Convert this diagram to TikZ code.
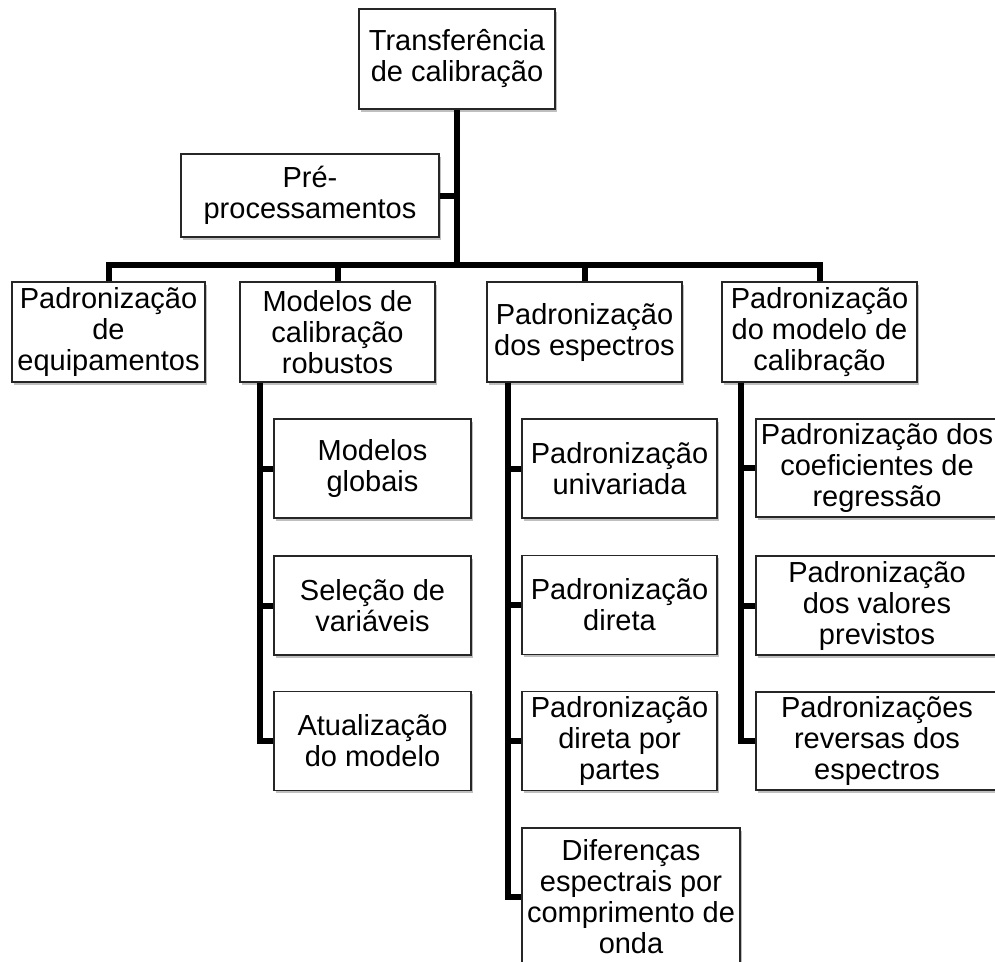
\documentclass[tikz,border=0pt]{standalone}
\usepackage{fontspec}
\setmainfont{Liberation Sans}
\usetikzlibrary{shadows}
\begin{document}
\begin{tikzpicture}[x=1pt,y=-1pt,
  box/.style={draw=black!85, line width=1.2pt, fill=white, align=center, inner sep=0pt,
    font=\fontsize{29}{31}\selectfont,
    drop shadow={shadow xshift=1.5pt, shadow yshift=-2.5pt, opacity=0.25, fill=black}},
  conn/.style={line width=6pt, black}]
\useasboundingbox (0,0) rectangle (995,961);

% top levels
\node[box, minimum width=196pt, minimum height=100pt] (T) at (457,59) {Transferência\\de calibração};
\node[box, minimum width=258pt, minimum height=83pt] (P) at (310,195.5) {Pré-\\processamentos};

\node[box, minimum width=193pt, minimum height=100pt] (E) at (108.5,332) {Padronização\\de\\equipamentos};
\node[box, minimum width=195pt, minimum height=100pt] (M) at (337.5,332) {Modelos de\\calibração\\robustos};
\node[box, minimum width=195pt, minimum height=100pt] (S) at (584.5,332) {Padronização\\dos espectros};
\node[box, minimum width=195pt, minimum height=100pt] (C) at (819.5,332) {Padronização\\do modelo de\\calibração};

% Modelos children
\node[box, minimum width=197pt, minimum height=99pt] (m1) at (372.5,468.5) {Modelos\\globais};
\node[box, minimum width=197pt, minimum height=99pt] (m2) at (372.5,605.5) {Seleção de\\variáveis};
\node[box, minimum width=197pt, minimum height=99pt] (m3) at (372.5,741) {Atualização\\do modelo};

% Espectros children
\node[box, minimum width=195pt, minimum height=99pt] (s1) at (619.5,468.5) {Padronização\\univariada};
\node[box, minimum width=195pt, minimum height=99pt] (s2) at (619.5,605) {Padronização\\direta};
\node[box, minimum width=195pt, minimum height=99pt] (s3) at (619.5,741) {Padronização\\direta por\\partes};
\node[box, minimum width=218pt, minimum height=138pt] (s4) at (631,897) {Diferenças\\espectrais por\\comprimento de\\onda};

% Modelo de calibracao children
\node[box, minimum width=242pt, minimum height=98pt] (c1) at (877,468) {Padronização dos\\coeficientes de\\regressão};
\node[box, minimum width=242pt, minimum height=99pt] (c2) at (877,605.5) {Padronização\\dos valores\\previstos};
\node[box, minimum width=242pt, minimum height=98pt] (c3) at (877,741) {Padronizações\\reversas dos\\espectros};

% main connectors
\coordinate (bus) at (457,265);
\draw[conn] (T.south) -- (bus);
\draw[conn] (P.east) -- (P.east -| bus);
\draw[conn] (E.north) |- (bus) -| (C.north);
\draw[conn] (M.north) -- (M.north |- bus);
\draw[conn] (S.north) -- (S.north |- bus);

% branch connectors
\coordinate (ma) at ([xshift=21pt]M.south west);
\draw[conn] (ma) |- (m1.west);
\draw[conn] (ma) |- (m2.west);
\draw[conn] (ma) |- (m3.west);

\coordinate (sa) at ([xshift=22pt]S.south west);
\draw[conn] (sa) |- (s1.west);
\draw[conn] (sa) |- (s2.west);
\draw[conn] (sa) |- (s3.west);
\draw[conn] (sa) |- (s4.west);

\coordinate (ca) at ([xshift=20pt]C.south west);
\draw[conn] (ca) |- (c1.west);
\draw[conn] (ca) |- (c2.west);
\draw[conn] (ca) |- (c3.west);
\end{tikzpicture}
\end{document}
